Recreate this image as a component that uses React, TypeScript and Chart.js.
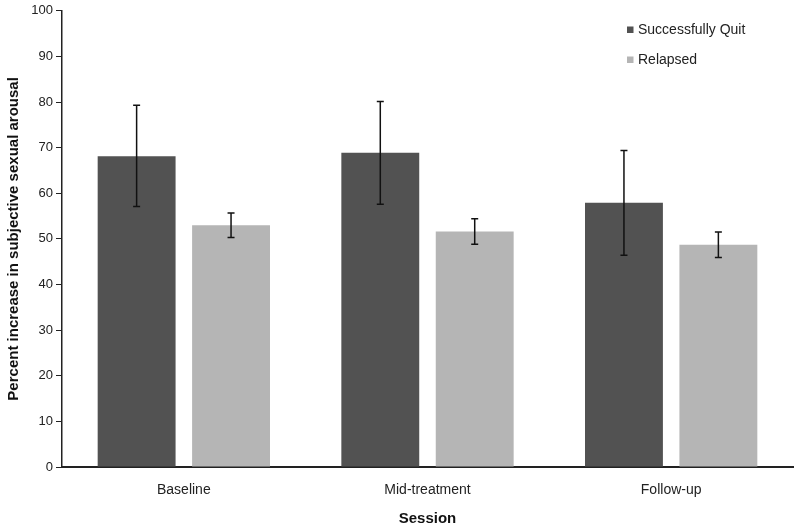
import React, { useEffect, useRef } from "react";
import { Chart, registerables } from "chart.js";

Chart.register(...registerables);

const categories = ["Baseline", "Mid-treatment", "Follow-up"];
const seriesNames = ["Successfully Quit", "Relapsed"];
const quitValues = [68.1, 68.9, 57.9];
const quitLow = [57.1, 57.6, 46.4];
const quitHigh = [79.3, 80.1, 69.4];
const relapsedValues = [53.0, 51.6, 48.7];
const relapsedLow = [50.3, 48.8, 45.9];
const relapsedHigh = [55.7, 54.4, 51.5];
const yTicks = [0, 10, 20, 30, 40, 50, 60, 70, 80, 90, 100];
const colors = ["#525252", "#b5b5b5"];

const FONT = "'Liberation Sans', Arial, Helvetica, sans-serif";

const errorBarPlugin = {
  id: "errorBars",
  afterDatasetsDraw(chart: any) {
    const ctx = chart.ctx;
    const y = chart.scales.y;
    const lows = [quitLow, relapsedLow];
    const highs = [quitHigh, relapsedHigh];
    ctx.save();
    ctx.strokeStyle = "#111";
    ctx.lineWidth = 1.5;
    chart.data.datasets.forEach((_: any, di: number) => {
      const meta = chart.getDatasetMeta(di);
      meta.data.forEach((bar: any, i: number) => {
        const x = bar.x;
        const yl = y.getPixelForValue(lows[di][i]);
        const yh = y.getPixelForValue(highs[di][i]);
        ctx.beginPath();
        ctx.moveTo(x, yl);
        ctx.lineTo(x, yh);
        ctx.moveTo(x - 3.5, yl);
        ctx.lineTo(x + 3.5, yl);
        ctx.moveTo(x - 3.5, yh);
        ctx.lineTo(x + 3.5, yh);
        ctx.stroke();
      });
    });
    ctx.restore();
  },
};

const legendPlugin = {
  id: "customLegend",
  afterDraw(chart: any) {
    const ctx = chart.ctx;
    ctx.save();
    ctx.font = `14px ${FONT}`;
    ctx.textBaseline = "middle";
    chart.data.datasets.forEach((ds: any, i: number) => {
      const yc = 30 + i * 30;
      ctx.fillStyle = ds.backgroundColor;
      ctx.fillRect(627, yc - 3.5, 6.5, 6.5);
      ctx.fillStyle = "#222";
      ctx.fillText(ds.label, 638, yc + 0.5);
    });
    ctx.restore();
  },
};

export default function App() {
  const ref = useRef<HTMLCanvasElement>(null);
  useEffect(() => {
    if (!ref.current) return;
    const chart = new Chart(ref.current, {
      type: "bar",
      data: {
        labels: categories,
        datasets: [
          { label: seriesNames[0], data: quitValues, backgroundColor: colors[0] },
          { label: seriesNames[1], data: relapsedValues, backgroundColor: colors[1] },
        ],
      },
      options: {
        responsive: false,
        animation: false,
        devicePixelRatio: 1,
        layout: { padding: { top: 10, right: 7, left: 0, bottom: 0 } },
        datasets: { bar: { categoryPercentage: 0.775, barPercentage: 0.825 } },
        plugins: { legend: { display: false }, tooltip: { enabled: false } },
        scales: {
          x: {
            grid: { display: false, drawTicks: false },
            border: { display: true, color: "#222", width: 2 },
            ticks: { color: "#222", font: { family: FONT, size: 14 }, padding: 15 },
            title: {
              display: true,
              text: "Session",
              color: "#111",
              font: { family: FONT, size: 15, weight: "bold" },
              padding: { top: 2, bottom: 0 },
            },
            afterFit(scale: any) {
              scale.height = 61;
            },
          },
          y: {
            min: 0,
            max: 100,
            afterBuildTicks(scale: any) {
              scale.ticks = yTicks.map((v) => ({ value: v }));
            },
            grid: { drawOnChartArea: false, drawTicks: true, tickLength: 6, color: "#222", lineWidth: 1 },
            border: { display: true, color: "#222", width: 1.5 },
            ticks: { color: "#222", font: { family: FONT, size: 13 }, padding: 3 },
            title: {
              display: true,
              text: "Percent increase in subjective sexual arousal",
              color: "#111",
              font: { family: FONT, size: 15, weight: "bold" },
              padding: { top: 5, bottom: 4 },
            },
            afterFit(scale: any) {
              scale.width = 62;
            },
          },
        },
      },
      plugins: [errorBarPlugin, legendPlugin],
    });
    return () => chart.destroy();
  }, []);
  return (
    <canvas
      ref={ref}
      width={800}
      height={528}
      style={{ position: "absolute", left: 0, top: 0, width: 800, height: 528, display: "block" }}
    />
  );
}
